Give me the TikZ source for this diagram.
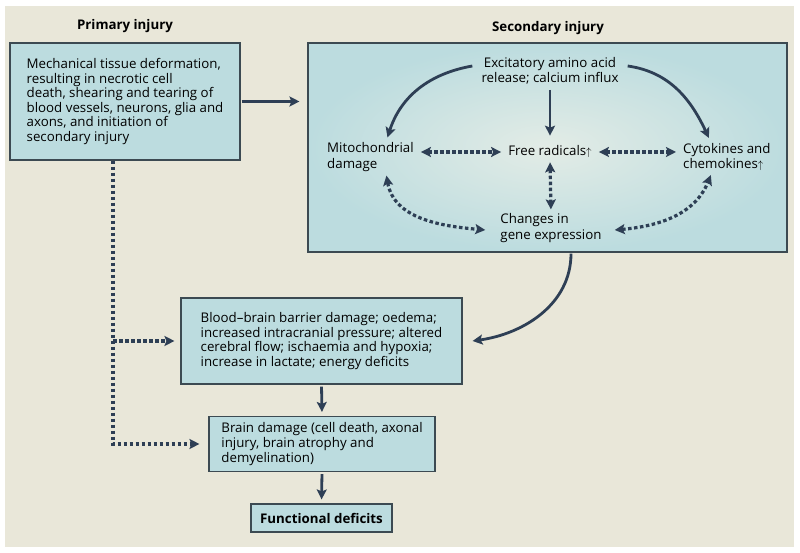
\documentclass[tikz,border=0pt]{standalone}
\usepackage{fontspec}
\setmainfont{Open Sans}
\usepackage{tikz}
\usetikzlibrary{positioning, arrows.meta}
\definecolor{bgbeige}{HTML}{E9E7D9}
\definecolor{boxteal}{HTML}{BCDCDF}
\definecolor{boxlight}{HTML}{E3ECE6}
\definecolor{edgegray}{HTML}{3C4A52}
\definecolor{arrblue}{HTML}{2E3F55}
\newcommand{\upmark}{{\fontsize{11}{11}\selectfont$\uparrow$}}

\begin{document}
\begin{tikzpicture}[
  x=1pt, y=1pt,
  box/.style={rectangle, draw=edgegray, line width=1.1pt, fill=boxteal, inner sep=0pt, align=left, font=\fontsize{13.3}{14.6}\selectfont},
  lbl/.style={inner sep=1pt, align=left, font=\fontsize{13.3}{15.5}\selectfont},
  title/.style={font=\fontsize{13.3}{15}\selectfont\bfseries},
  arr/.style={-{Stealth[length=10pt, width=10pt, inset=2pt]}, line width=2.8pt, draw=arrblue},
  darr/.style={arr, line width=3.2pt, dash pattern=on 3.5pt off 2.5pt},
  ddarr/.style={darr, {Stealth[length=10pt, width=10pt, inset=2pt]}-{Stealth[length=10pt, width=10pt, inset=2pt]}}
]
\useasboundingbox (0,0) rectangle (800,553);
\fill[bgbeige] (5,6) rectangle (794,547);

% --- Primary injury ---
\node[title] (ptitle) at (125,527) {Primary injury};
\node[box, minimum width=230pt, minimum height=117pt] (prim) at (125,451.5)
  {Mechanical tissue deformation,\\resulting in necrotic cell\\death, shearing and tearing of\\blood vessels, neurons, glia and\\axons, and initiation of\\secondary injury};

% --- Secondary injury ---
\node[title] (stitle) at (548,525) {Secondary injury};
\node[box, minimum width=479pt, minimum height=209pt, shading=radial, inner color=boxlight, outer color=boxteal] (sec) at (547.5,405.5) {};
\node[lbl, align=center] (exc) at (550,482) {Excitatory amino acid\\release; calcium influx};
\node[lbl, anchor=west] (mito) at (326,396) {Mitochondrial\\damage};
\node[lbl] (free) at (550,401) {Free radicals\upmark};
\node[lbl, anchor=west] (cyto) at (682,396) {Cytokines and\\chemokines\upmark};
\node[lbl] (gene) at (551,325) {Changes in\\gene expression};

\draw[arr] ([xshift=-8pt, yshift=5pt]exc.west) to[out=190, in=72] ([xshift=17pt, yshift=4pt]mito.north);
\draw[arr] ([xshift=8pt, yshift=5pt]exc.east) to[out=-8, in=115] ([xshift=-18pt, yshift=4pt]cyto.north);
\draw[arr, shorten <=4pt, shorten >=9pt] (exc.south) -- (free.north);
\draw[ddarr, shorten <=6pt, shorten >=6pt] (free.west -| mito.east) -- (free.west);
\draw[ddarr, shorten <=6pt, shorten >=6pt] (free.east) -- (free.east -| cyto.west);
\draw[ddarr, shorten <=3pt, shorten >=3pt] (free.south) -- (gene.north);
\draw[ddarr] ([xshift=16pt, yshift=-3pt]mito.south) to[out=-80, in=175] ([xshift=-14pt, yshift=-2pt]gene.west);
\draw[ddarr] ([xshift=12pt, yshift=-2pt]gene.east) to[out=5, in=-112] ([xshift=-16pt, yshift=-3pt]cyto.south);

\draw[arr, shorten <=1pt, shorten >=8pt] (prim.east) -- (prim.east -| sec.west);

% --- Consequences ---
\node[box, minimum width=281pt, minimum height=86pt] (bbb) at (321.5,212)
  {Blood--brain barrier damage; oedema;\\increased intracranial pressure; altered\\cerebral flow; ischaemia and hypoxia;\\increase in lactate; energy deficits};
\node[box, minimum width=226pt, minimum height=55pt] (brain) at (322,109)
  {Brain damage (cell death, axonal\\injury, brain atrophy and\\demyelination)};
\node[box, minimum width=141pt, minimum height=28pt, font=\fontsize{13.3}{15}\selectfont\bfseries] (func) at (321.5,35) {Functional deficits};

\draw[arr, shorten <=1pt] ([xshift=23.5pt]sec.south) to[out=-90, in=8] ([xshift=10pt]bbb.east);
\draw[arr, shorten <=2pt, shorten >=4pt] (bbb.south) -- (brain.north);
\draw[arr, shorten <=2pt, shorten >=4pt] (brain.south) -- (func.north);

% dotted link from primary injury
\coordinate (dtop) at ([xshift=-12pt]prim.south);
\draw[darr, shorten >=9pt] (dtop) |- (brain.west);
\draw[darr, shorten >=6pt] (dtop |- bbb.west) -- (bbb.west);
\end{tikzpicture}
\end{document}
